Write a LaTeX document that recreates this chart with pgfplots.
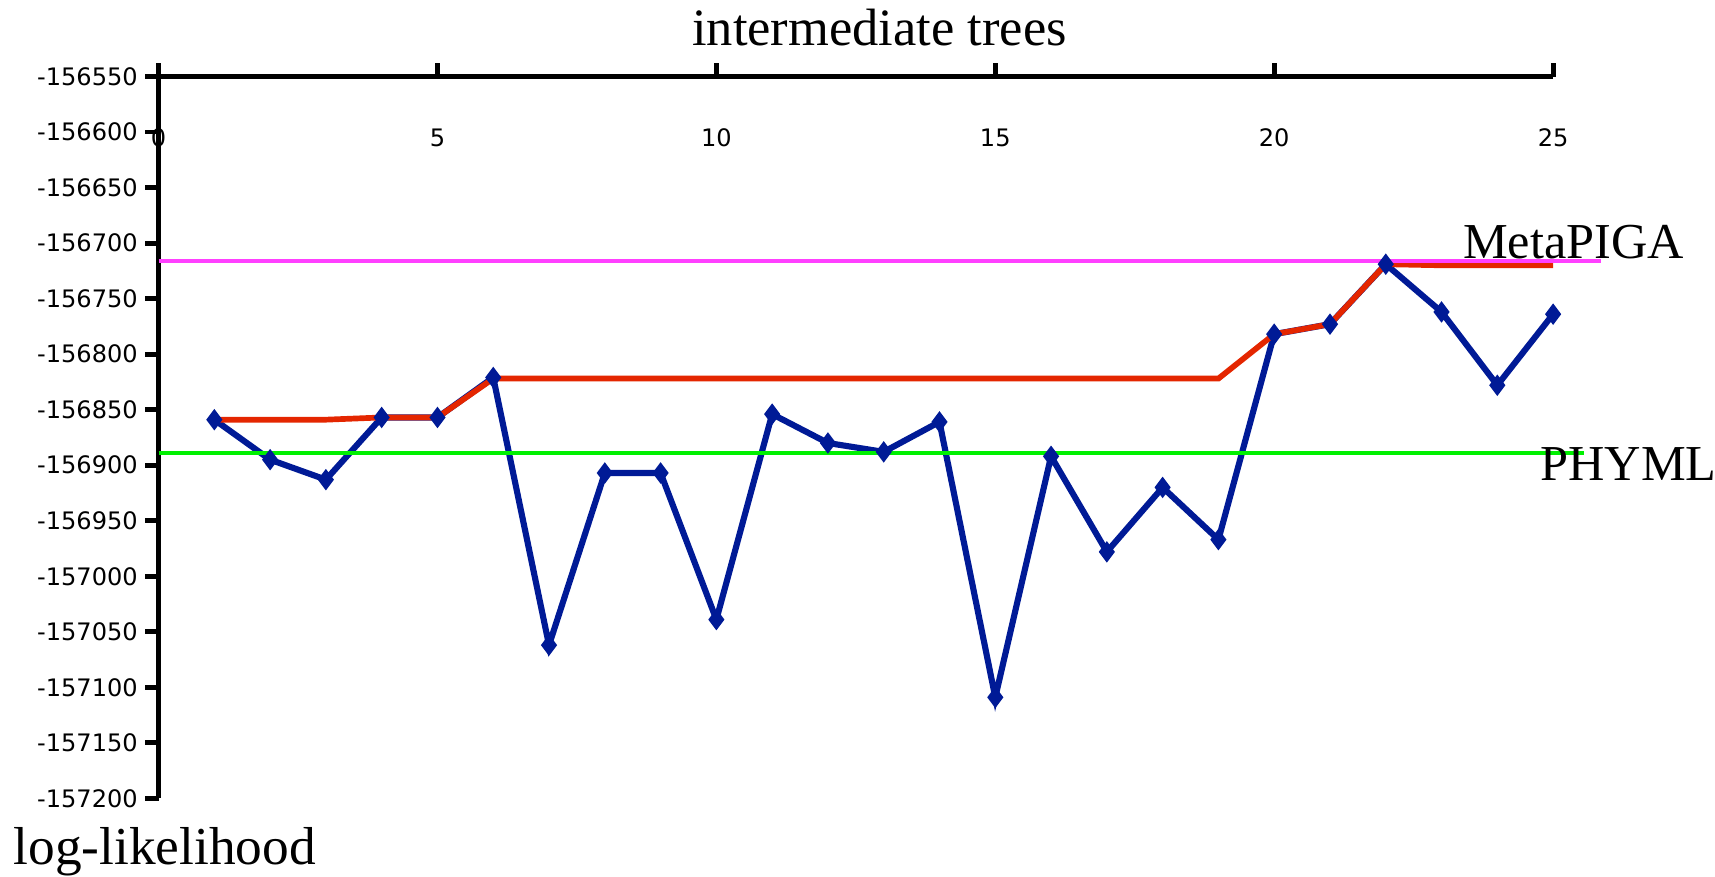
\documentclass[border=0pt]{standalone}
\usepackage{pgfplots}
\pgfplotsset{compat=1.18}
\usepackage{pgfplotstable}
\usepackage{fontspec}
\setmainfont{Liberation Serif}
\newfontfamily\verd{DejaVu Sans}
\definecolor{navy}{RGB}{0,26,150}
\definecolor{redl}{RGB}{228,38,0}
\definecolor{mag}{RGB}{255,64,255}
\definecolor{grn}{RGB}{0,240,0}
\pgfplotstableread{
x y
1 -156859
2 -156895
3 -156913
4 -156857
5 -156857
6 -156821
7 -157062
8 -156907
9 -156907
10 -157039
11 -156854
12 -156880
13 -156888
14 -156861
15 -157109
16 -156892
17 -156978
18 -156920
19 -156967
20 -156782
21 -156773
22 -156719
23 -156762
24 -156828
25 -156764
}\blue
\pgfplotstableread{
x y
1 -156859
2 -156859
3 -156859
4 -156857
5 -156857
6 -156822
7 -156822
8 -156822
9 -156822
10 -156822
11 -156822
12 -156822
13 -156822
14 -156822
15 -156822
16 -156822
17 -156822
18 -156822
19 -156822
20 -156782
21 -156773
22 -156719
23 -156720
24 -156720
25 -156720
}\red
\begin{document}
\begin{tikzpicture}
\begin{axis}[
  scale only axis,
  width=637.5pt, height=330pt,
  xmin=0, xmax=25, ymin=-157200, ymax=-156550,
  scaled y ticks=false, scaled x ticks=false,
  axis x line*=top, axis y line*=left,
  x axis line style={-, line width=2.2pt},
  y axis line style={-, line width=2.2pt},
  tick align=outside,
  major tick length=6pt,
  every tick/.style={black, line width=2.2pt},
  xtick={0,5,10,15,20,25},
  xticklabels={0,5,10,15,20,25},
  ytick={-157200,-157150,-157100,-157050,-157000,-156950,-156900,-156850,-156800,-156750,-156700,-156650,-156600,-156550},
  yticklabels={-157200,-157150,-157100,-157050,-157000,-156950,-156900,-156850,-156800,-156750,-156700,-156650,-156600,-156550},
  ticklabel style={font=\verd\fontsize{11}{13}\selectfont},
  xticklabel style={anchor=center, yshift=-34pt},
  clip=false,
]
\path[use as bounding box] (rel axis cs:-0.1137,-0.1076) rectangle (rel axis cs:1.1161,1.106);
\addplot[navy, line width=2.8pt, mark=diamond*, mark size=2.6pt] table {\blue};
\addplot[redl, line width=2.6pt] table {\red};
\addplot[grn, line width=1.7pt] coordinates {(0,-156889) (25.55,-156889)};
\addplot[mag, line width=1.5pt] coordinates {(0,-156716) (25.85,-156716)};
\node[anchor=base, font=\fontsize{24}{28}\selectfont] at (rel axis cs:0.517,1.0424) {intermediate trees};
\node[anchor=base west, inner sep=0pt, font=\fontsize{24.4}{28}\selectfont] at (rel axis cs:-0.1043,-0.0909) {log-likelihood};
\node[anchor=base east, inner sep=0pt, font=\fontsize{23}{28}\selectfont] at (rel axis cs:1.0941,0.748) {MetaPIGA};
\node[anchor=base west, inner sep=0pt, font=\fontsize{23}{28}\selectfont] at (rel axis cs:0.9906,0.441) {PHYML};
\end{axis}
\end{tikzpicture}
\end{document}
